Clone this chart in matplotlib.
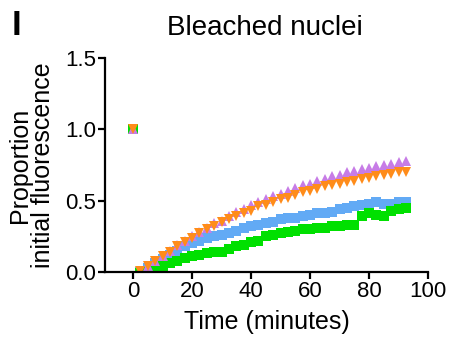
import matplotlib
matplotlib.use("Agg")
import matplotlib.pyplot as plt
import numpy as np

plt.rcParams['font.family'] = ['Liberation Sans', 'DejaVu Sans']

# Tempo (minutos) apos o bleach; t=0 e o valor pre-bleach
t0 = [0]
t = [2.5, 5, 7.5, 10, 12.5, 15, 17.5, 20, 22.5, 25, 27.5, 30, 32.5, 35, 37.5,
     40, 42.5, 45, 47.5, 50, 52.5, 55, 57.5, 60, 62.5, 65, 67.5, 70, 72.5,
     75, 77.5, 80, 82.5, 85, 87.5, 90, 92.5]

purple = [0.00, 0.04, 0.08, 0.11, 0.15, 0.19, 0.22, 0.25, 0.28, 0.31, 0.34,
          0.36, 0.39, 0.42, 0.44, 0.47, 0.49, 0.51, 0.53, 0.55, 0.57, 0.59,
          0.61, 0.62, 0.64, 0.65, 0.67, 0.68, 0.70, 0.71, 0.72, 0.73, 0.74,
          0.75, 0.76, 0.77, 0.78]
orange = [0.01, 0.04, 0.08, 0.11, 0.14, 0.18, 0.21, 0.24, 0.27, 0.30, 0.32,
          0.35, 0.37, 0.39, 0.41, 0.43, 0.46, 0.47, 0.49, 0.51, 0.52, 0.54,
          0.56, 0.57, 0.58, 0.60, 0.61, 0.62, 0.63, 0.64, 0.65, 0.66, 0.67,
          0.68, 0.69, 0.70, 0.70]
blue = [0.00, 0.03, 0.06, 0.09, 0.12, 0.15, 0.18, 0.20, 0.22, 0.24, 0.25,
        0.26, 0.27, 0.29, 0.31, 0.32, 0.33, 0.34, 0.35, 0.37, 0.38, 0.38,
        0.39, 0.40, 0.41, 0.41, 0.42, 0.44, 0.45, 0.46, 0.47, 0.48, 0.49,
        0.48, 0.48, 0.49, 0.49]
green = [-0.01, 0.00, 0.02, 0.04, 0.06, 0.08, 0.10, 0.11, 0.12, 0.13, 0.14,
         0.14, 0.16, 0.18, 0.19, 0.21, 0.22, 0.25, 0.26, 0.27, 0.28, 0.29,
         0.30, 0.30, 0.31, 0.31, 0.32, 0.32, 0.33, 0.33, 0.39, 0.41, 0.40,
         0.39, 0.43, 0.44, 0.45]

xticks = [0, 20, 40, 60, 80, 100]
yticks = [0.0, 0.5, 1.0, 1.5]

fig = plt.figure(figsize=(4.51, 3.43), dpi=100)
ax = fig.add_axes([0.233, 0.207, 0.716, 0.624])

series = [
    (blue, "#62aaf5", "s", 6.5),
    (green, "#00e000", "s", 6.5),
    (purple, "#c77ce6", "^", 7),
    (orange, "#ff8c1a", "v", 7),
]
for vals, col, mk, ms in series:
    ax.plot(t0 + t, [1.0] + vals, linestyle="none", marker=mk, ms=ms,
            color=col, markeredgewidth=0)

ax.set_xlim(-9.5, 100)
ax.set_ylim(0, 1.5)
ax.set_xticks(xticks)
ax.set_yticks(yticks)
ax.set_yticklabels([f"{v:.1f}" for v in yticks])

for s in ["top", "right"]:
    ax.spines[s].set_visible(False)
for s in ["left", "bottom"]:
    ax.spines[s].set_linewidth(1.6)
ax.tick_params(direction="out", length=5, width=1.6, labelsize=16, pad=1.5)

ax.set_xlabel("Time (minutes)", fontsize=18, labelpad=6)
ax.set_ylabel("Proportion\ninitial fluorescence", fontsize=18, labelpad=7,
              linespacing=0.95)
fig.text(0.587, 0.918, "Bleached nuclei", fontsize=20, ha="center", va="center")
fig.text(0.025, 0.927, "I", fontsize=25, fontweight="bold", ha="left", va="center")

fig.savefig("out.png", dpi=100)
